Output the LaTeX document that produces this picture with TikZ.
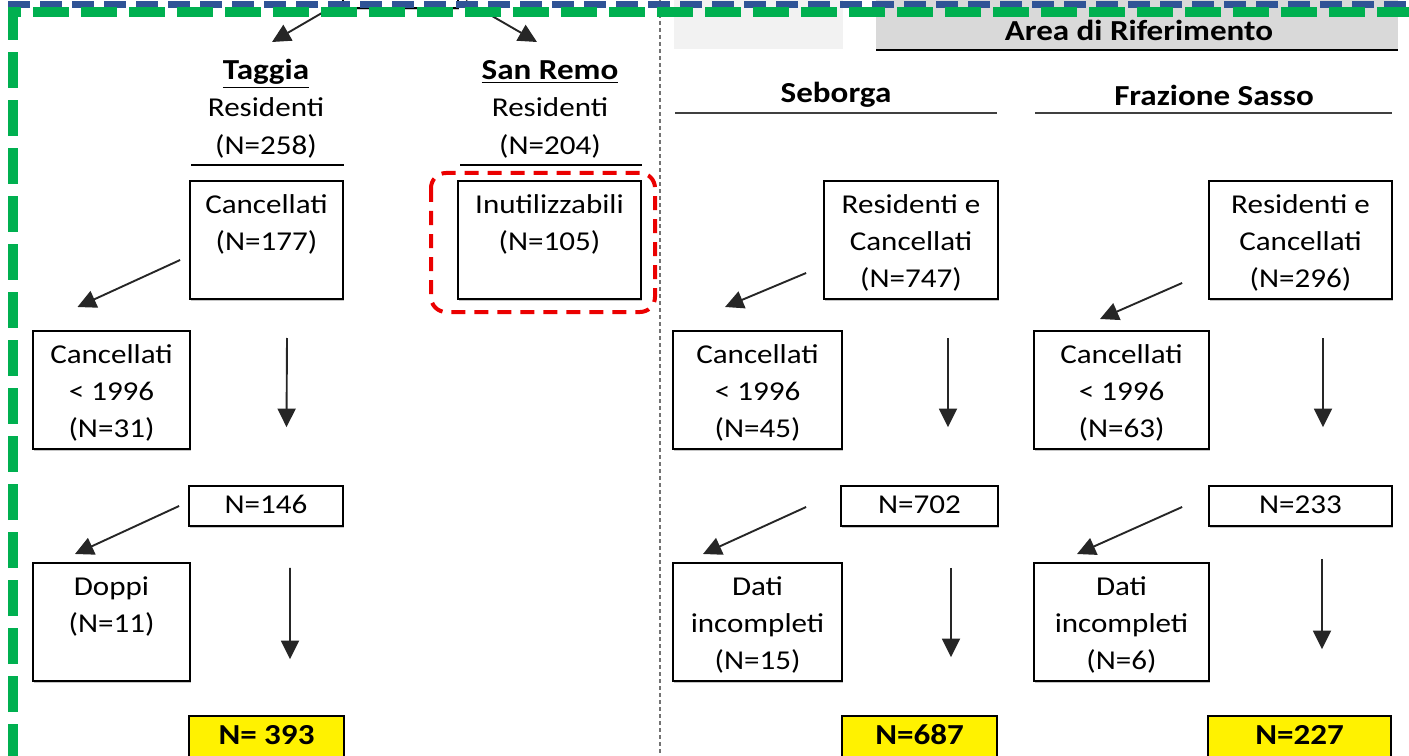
\documentclass[tikz,border=0pt]{standalone}
\usepackage{fontspec}
\setmainfont{Carlito}[FakeStretch=1.14]
\usetikzlibrary{arrows.meta,calc,shadows}
\definecolor{frameblue}{RGB}{47,84,150}
\definecolor{framegreen}{RGB}{0,176,80}
\definecolor{markred}{RGB}{235,0,0}
\newcommand{\hd}[1]{{\fontsize{16.5}{21.3}\selectfont\bfseries #1}}
\newcommand{\lines}[1]{\begin{tabular}{@{}c@{}}\rule{0pt}{18.3pt}#1\end{tabular}}
\tikzset{
  box/.style 2 args={draw, fill=white, line width=0.35mm, inner sep=0pt,
    minimum width=#1*0.2mm, minimum height=#2*0.2mm,
    drop shadow={shadow xshift=0.25mm, shadow yshift=-0.35mm, fill=black!45},
    execute at begin node=\strut},
  tot/.style={box={#1}{42}, fill=yellow},
  head/.style={inner sep=0pt},
  arr/.style={-{Triangle[length=3.7mm,width=3.6mm]}, line width=0.38mm, black!85},
  rule/.style={line width=0.4mm},
}
\begin{document}
\begin{tikzpicture}[x=0.2mm, y=-0.2mm, font=\fontsize{15.5}{21.3}\selectfont]
  \useasboundingbox (0,0) rectangle (1409,756);

  % header shading on the right
  \fill[black!5] (674,-5) rectangle (843,49);
  \fill[black!15] (876,-5) rectangle (1398,50);
  \draw[rule] (876,50) -- (1398,50);
  \node (area) at (1139,30) {\hd{Area di Riferimento}};

  % separator
  \draw[black!55, line width=0.4mm, dash pattern=on 0.8mm off 0.6mm] (660,0) -- (660,756);

  % top box (cut off)
  \node[box={115}{40}] (ttop) at (400.5,-12) {};
  \coordinate (tagtip) at (272,42);
  \coordinate (remtip) at (537,42);

  % Taggia
  \node[head] (tag) at (266,106.5) {\lines{\underline{\hd{Taggia}}\\Residenti\\(N=258)}};
  \draw[rule] (191,165) -- (344,165);
  \node[box={153}{114}] (tc1) at (266.5,240) {\lines{Cancellati\\(N=177)\\ \mbox{}}};
  \node[box={157}{114}] (tc2) at (111.5,390) {\lines{Cancellati\\< 1996\\(N=31)}};
  \node[box={154}{40}] (tn) at (266,506) {N=146};
  \node[box={157}{116}] (td) at (111.5,622) {\lines{Doppi\\(N=11)\\ \mbox{}}};
  \node[tot={155}] (tt) at (266.5,737) {\hd{N= 393}};

  % San Remo
  \node[head] (rem) at (550,106.5) {\lines{\underline{\hd{San Remo}}\\Residenti\\(N=204)}};
  \draw[rule] (460,165) -- (642,165);
  \node[box={183}{114}] (rinu) at (549.5,240) {\lines{Inutilizzabili\\(N=105)\\ \mbox{}}};
  \draw[markred, line width=0.8mm, dash pattern=on 2.8mm off 1.8mm, rounded corners=3mm]
    (431,173) rectangle (655,312);

  % Seborga
  \node (seb) at (836,95) {\hd{Seborga}};
  \draw[rule, black!75] (675,113) -- (997,113);
  \node[box={174}{114}] (sc1) at (911,240) {\lines{Residenti e\\Cancellati\\(N=747)}};
  \node[box={169}{114}] (sc2) at (757.5,390) {\lines{Cancellati\\< 1996\\(N=45)}};
  \node[box={157}{40}] (sn) at (919.5,506) {N=702};
  \node[box={169}{116}] (sd) at (757.5,622) {\lines{Dati\\incompleti\\(N=15)}};
  \node[tot={155}] (st) at (919.5,737) {\hd{N=687}};

  % Frazione Sasso
  \node (fra) at (1214,95) {\hd{Frazione Sasso}};
  \draw[rule, black!75] (1035,113) -- (1392,113);
  \node[box={183}{114}] (fc1) at (1300.5,240) {\lines{Residenti e\\Cancellati\\(N=296)}};
  \node[box={175}{114}] (fc2) at (1121.5,390) {\lines{Cancellati\\< 1996\\(N=63)}};
  \node[box={183}{40}] (fn) at (1300.5,506) {N=233};
  \node[box={175}{116}] (fd) at (1121.5,622) {\lines{Dati\\incompleti\\(N=6)}};
  \node[tot={183}] (ft) at (1299.5,737) {\hd{N=227}};

  % arrows
  \draw[arr] ($(ttop.south west)+(-8,-3)$) -- (tagtip);
  \draw[arr] ($(ttop.south east)+(7,-8)$) -- (remtip);

  \draw[arr] ($(tc1.west)+(-9,20)$) -- ($(tc2.north)+(-34,-23)$);
  \draw[arr] ($(tc1.south)+(20.5,38)$) -- ($(tn.north)+(20.5,-58)$);
  \draw[arr] ($(tn.west)+(-9,0)$) -- ($(td.north)+(-36.5,-8)$);
  \draw[arr] ($(tn.south)+(24,41)$) -- ($(tt.north)+(23.5,-56)$);

  \draw[arr] ($(sc1.west)+(-17,33)$) -- ($(sc2.north)+(-32.5,-23)$);
  \draw[arr] ($(sc1.south)+(37,38)$) -- ($(sn.north)+(28.5,-58)$);
  \draw[arr] ($(sn.west)+(-34,1)$) -- ($(sd.north)+(-54.5,-8)$);
  \draw[arr] ($(sn.south)+(31.5,41)$) -- ($(st.north)+(31.5,-58)$);

  \draw[arr] ($(fc1.west)+(-26,43)$) -- ($(fc2.north)+(-21.5,-11)$);
  \draw[arr] ($(fc1.south)+(22.5,38)$) -- ($(fn.north)+(22.5,-58)$);
  \draw[arr] ($(fn.west)+(-26,1)$) -- ($(fd.north)+(-44.5,-8)$);
  \draw[arr] ($(fn.south)+(21.5,32)$) -- ($(ft.north)+(22.5,-66)$);

  % frame lines
  \draw[frameblue, line width=1.4mm, dash pattern=on 4.4mm off 2mm] (8,5) -- (1409,5);
  \draw[framegreen, line width=2mm, dash pattern=on 7.2mm off 2.4mm] (13,760) -- (13,12) -- (1409,12);
\end{tikzpicture}
\end{document}
